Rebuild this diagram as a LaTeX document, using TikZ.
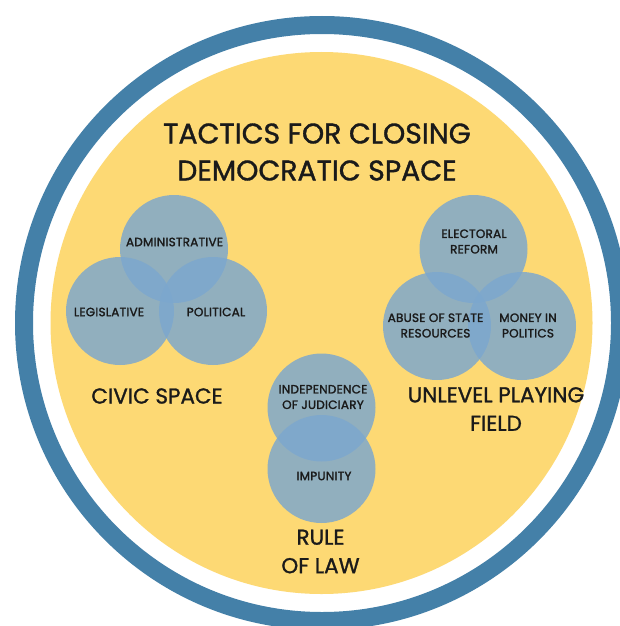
\documentclass[tikz,border=0pt]{standalone}
\usepackage{fontspec}
\setmainfont{Poppins}
\newfontfamily\headfont{Poppins}[FakeBold=1.2]
\newfontfamily\tagfont{Poppins}[FakeBold=1.8, LetterSpace=2]
\definecolor{ringblue}{HTML}{4480A8}
\definecolor{sun}{HTML}{FDD974}
\definecolor{disc}{HTML}{7CA7CE}
\definecolor{ink}{HTML}{1A1A1A}
\tikzset{
  venn/.style={circle, fill=disc, fill opacity=0.83, minimum size=108pt, inner sep=0pt},
  tag/.style={text=ink, font=\tagfont\fontsize{12}{15.5}\selectfont, align=center, inner sep=0pt},
  group/.style={text=ink, font=\headfont\fontsize{21.5}{28.5}\selectfont, align=center, inner sep=0pt},
  heading/.style={text=ink, font=\headfont\fontsize{28.3}{37}\selectfont, align=center, inner sep=0pt}
}
\begin{document}
\begin{tikzpicture}[x=1pt, y=-1pt]
\useasboundingbox (0,0) rectangle (620,626);
\clip (0,0) rectangle (620,626);
\fill[white] (0,0) rectangle (620,626);
% outer ring and yellow field
\draw[ringblue, line width=18pt] (322,323) circle[radius=298];
\fill[sun] (321.5,323) circle[radius=271];

% title
\node[heading] (title) at (317,152) {TACTICS FOR CLOSING\\DEMOCRATIC SPACE};

% civic space
\node[venn] (adm) at (174,249) {};
\node[venn] (leg) at (120,311) {};
\node[venn] (pol) at (213,311) {};
\node[tag] (admt) at (174.5,242) {ADMINISTRATIVE};
\node[tag] (legt) at (109,312) {LEGISLATIVE};
\node[tag] (polt) at (216,312) {POLITICAL};
\node[group] (civic) at (157,396) {CIVIC SPACE};

% unlevel playing field
\node[venn] (ele) at (473.5,249) {};
\node[venn] (abu) at (437,326) {};
\node[venn] (mon) at (522,326) {};
\node[tag] (elet) at (474,241.5) {ELECTORAL\\REFORM};
\node[tag] (abut) at (435.5,325.5) {ABUSE OF STATE\\RESOURCES};
\node[tag] (mont) at (528,325.5) {MONEY IN\\POLITICS};
\node[group] (field) at (496,409) {UNLEVEL PLAYING\\FIELD};

% rule of law
\node[venn] (ind) at (321.5,407.5) {};
\node[venn] (imp) at (321.5,469) {};
\node[tag] (indt) at (323,397) {INDEPENDENCE\\OF JUDICIARY};
\node[tag] (impt) at (324,476) {IMPUNITY};
\node[group] (law) at (320.5,551.5) {RULE\\OF LAW};
\end{tikzpicture}
\end{document}
